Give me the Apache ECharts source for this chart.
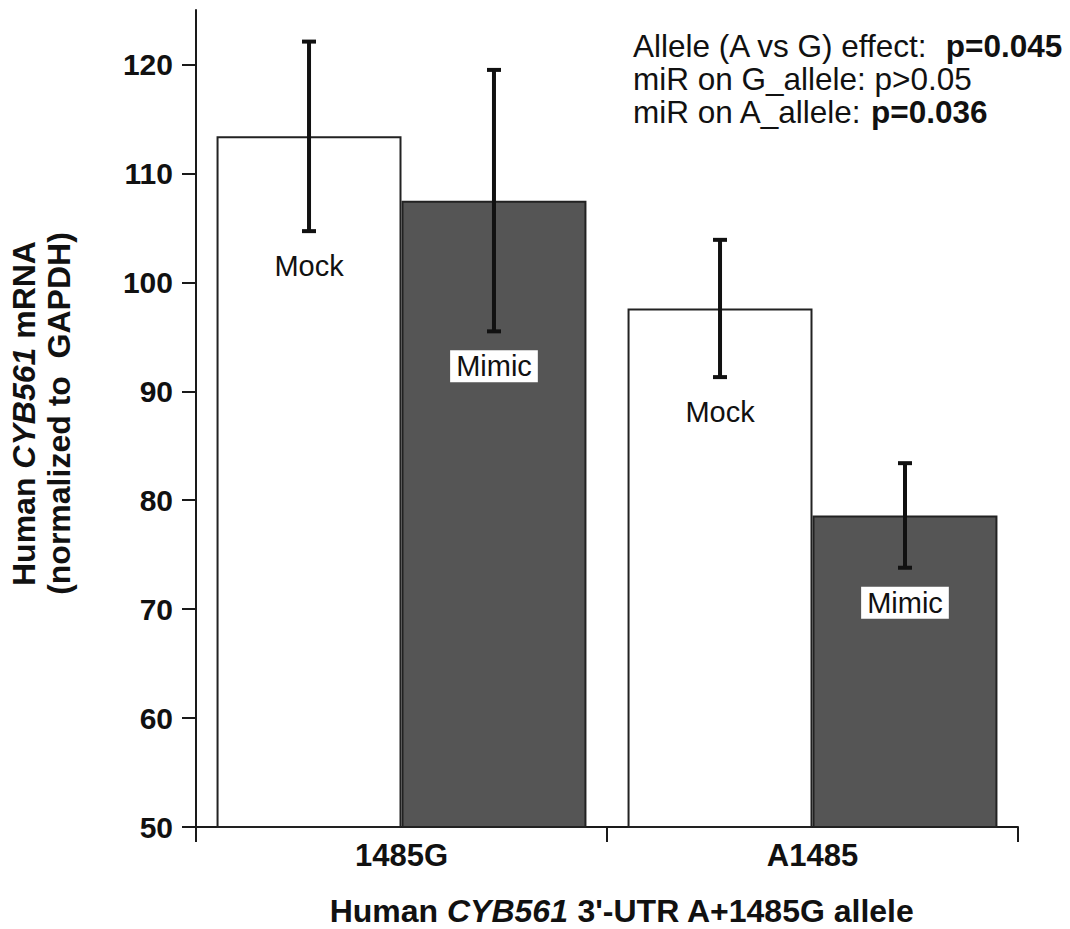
<!DOCTYPE html>
<html>
<head>
<meta charset="utf-8">
<script src="https://cdn.jsdelivr.net/npm/echarts@6/dist/echarts.min.js"></script>
<style>
html,body{margin:0;padding:0;background:#fff;}
#chart{width:1070px;height:929px;}
</style>
</head>
<body>
<div id="chart"></div>
<script>
// ---- data ----
const categories = ['1485G', 'A1485'];
const seriesNames = ['Mock', 'Mimic'];
const mockMean = [113.4, 97.6];
const mockErr = [8.7, 6.3];
const mimicMean = [107.5, 78.6];
const mimicErr = [12.0, 4.8];
const yTicks = [50, 60, 70, 80, 90, 100, 110, 120];
const annotationLines = [
  ['Allele (A vs G) effect:  ', 'p=0.045'],
  ['miR on G_allele: p>0.05', ''],
  ['miR on A_allele: ', 'p=0.036']
];

// ---- build ----
const FONT = 'Liberation Sans, Arial, Helvetica, sans-serif';
const catGapRatio = 0.10;
const errData = [];
categories.forEach((c, i) => {
  errData.push([i, mockMean[i], mockErr[i], 0]);
  errData.push([i, mimicMean[i], mimicErr[i], 1]);
});

const annoText = annotationLines.map(l =>
  '{n|' + l[0] + '}' + (l[1] ? '{b|' + l[1] + '}' : '')
).join('\n');

const chart = echarts.init(document.getElementById('chart'), null, {renderer: 'svg'});
chart.setOption({
  animation: false,
  backgroundColor: '#ffffff',
  grid: {left: 196, right: 52, top: 10, bottom: 102, containLabel: false, outerBoundsMode: 'none'},
  xAxis: {
    type: 'category',
    data: categories,
    boundaryGap: true,
    axisLine: {show: true, lineStyle: {color: '#1a1a1a', width: 2}},
    axisTick: {show: true, length: 15, alignWithLabel: false, lineStyle: {color: '#1a1a1a', width: 2}},
    axisLabel: {margin: 13, color: '#111', fontFamily: FONT, fontWeight: 'bold', fontSize: 31},
    name: '{b|Human }{bi|CYB561}{b| 3\'-UTR A+1485G allele}',
    nameLocation: 'middle',
    nameGap: 70,
    nameTextStyle: {
      padding: [0, 0, 0, 30],
      rich: {
        b: {fontFamily: FONT, fontWeight: 'bold', fontSize: 32, lineHeight: 28, color: '#111'},
        bi: {fontFamily: FONT, fontWeight: 'bold', fontStyle: 'italic', fontSize: 32, lineHeight: 28, color: '#111'}
      }
    },
    splitLine: {show: false}
  },
  yAxis: {
    type: 'value',
    min: 50,
    max: 125,
    interval: 10,
    axisLine: {show: true, lineStyle: {color: '#1a1a1a', width: 2}},
    axisTick: {show: true, length: 14, customValues: yTicks, lineStyle: {color: '#1a1a1a', width: 2}},
    axisLabel: {margin: 23, customValues: yTicks, color: '#111', fontFamily: FONT, fontWeight: 'bold', fontSize: 30},
    splitLine: {show: false},
    name: '{b|Human }{bi|CYB561}{b| mRNA}\n{b|(normalized to  GAPDH)}',
    nameLocation: 'middle',
    nameGap: 120,
    nameRotate: 90,
    nameTextStyle: {
      align: 'center',
      padding: [0, 0, 0, 10],
      rich: {
        b: {fontFamily: FONT, fontWeight: 'bold', fontSize: 32, color: '#111', lineHeight: 35},
        bi: {fontFamily: FONT, fontWeight: 'bold', fontStyle: 'italic', fontSize: 32, color: '#111', lineHeight: 35}
      }
    }
  },
  graphic: [{
    type: 'text',
    left: 633,
    top: 30,
    style: {
      text: annoText,
      rich: {
        n: {fontFamily: FONT, fontSize: 31.5, fill: '#111', lineHeight: 33},
        b: {fontFamily: FONT, fontSize: 31.5, fontWeight: 'bold', fill: '#111', lineHeight: 33}
      }
    }
  }],
  series: [
    {
      name: seriesNames[0],
      type: 'bar',
      data: mockMean,
      barGap: '0%',
      barCategoryGap: (catGapRatio * 100) + '%',
      itemStyle: {color: '#ffffff', borderColor: '#222', borderWidth: 2}
    },
    {
      name: seriesNames[1],
      type: 'bar',
      data: mimicMean,
      barGap: '0%',
      barCategoryGap: (catGapRatio * 100) + '%',
      itemStyle: {color: '#555555', borderColor: '#222', borderWidth: 2}
    },
    {
      type: 'custom',
      data: errData,
      z: 10,
      renderItem: function (params, api) {
        const cat = api.value(0), mean = api.value(1), err = api.value(2), s = api.value(3);
        const center = api.coord([cat, mean]);
        const catW = api.size([1, 0])[0];
        const barW = catW * (1 - catGapRatio) / 2;
        const x = center[0] + (s === 0 ? -barW / 2 : barW / 2);
        const hi = api.coord([cat, mean + err])[1];
        const lo = api.coord([cat, mean - err])[1];
        const cap = 7;
        const ls = {stroke: '#111', lineWidth: 4};
        const labelStyle = {
          text: seriesNames[s],
          fontFamily: FONT,
          fontSize: 29,
          fill: '#111',
          align: 'center',
          verticalAlign: 'middle'
        };
        if (s === 1) {
          labelStyle.backgroundColor = '#ffffff';
          labelStyle.padding = [2, 6, 1, 6];
        }
        return {
          type: 'group',
          children: [
            {type: 'line', shape: {x1: x, y1: hi, x2: x, y2: lo}, style: ls},
            {type: 'line', shape: {x1: x - cap, y1: hi, x2: x + cap, y2: hi}, style: ls},
            {type: 'line', shape: {x1: x - cap, y1: lo, x2: x + cap, y2: lo}, style: ls},
            {type: 'text', x: x, y: lo + 35, style: labelStyle}
          ]
        };
      }
    }
  ]
});
</script>
</body>
</html>
